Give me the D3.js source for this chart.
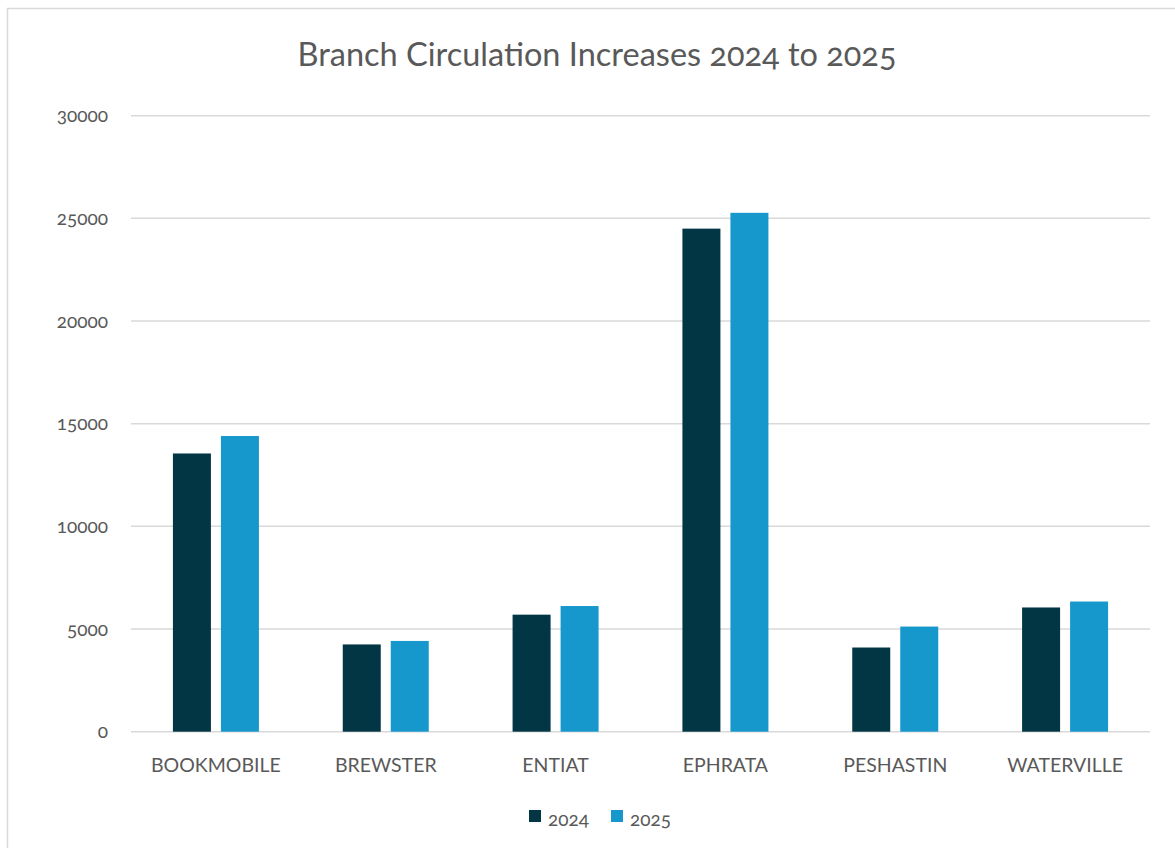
<!DOCTYPE html>
<html>
<head>
<meta charset="utf-8">
<script src="https://cdn.jsdelivr.net/npm/d3@7"></script>
<style>
  html, body { margin: 0; padding: 0; background: #fff; }
  text { font-family: Lato, "Open Sans", sans-serif; fill: #595959; font-variant-numeric: oldstyle-nums; }
</style>
</head>
<body>
<svg id="chart" width="1175" height="848"></svg>
<script>
const branches = ["BOOKMOBILE", "BREWSTER", "ENTIAT", "EPHRATA", "PESHASTIN", "WATERVILLE"];
const seriesNames = ["2024", "2025"];
const values2024 = [13550, 4250, 5700, 24500, 4100, 6050];
const values2025 = [14400, 4420, 6120, 25270, 5120, 6340];
const yTicks = [0, 5000, 10000, 15000, 20000, 25000, 30000];
const colors = ["#023644", "#1798CC"];
const title = "Branch Circulation Increases 2024 to 2025";

const svg = d3.select("#chart");

// outer frame
svg.append("rect")
  .attr("x", 7.5).attr("y", 8.5)
  .attr("width", 1180).attr("height", 860)
  .attr("fill", "none").attr("stroke", "#d9d9d9").attr("stroke-width", 1.5);

const margin = { left: 131, right: 1150, top: 115.7, bottom: 731.7 };

const x = d3.scaleBand().domain(branches).range([margin.left, margin.right]).paddingInner(0).paddingOuter(0);
const x1 = d3.scaleBand().domain(seriesNames).range([0, 86]).paddingInner(10 / 48).paddingOuter(0);
const y = d3.scaleLinear().domain([0, 30000]).range([margin.bottom, margin.top]);

// gridlines
svg.append("g")
  .selectAll("line").data(yTicks).join("line")
  .attr("x1", margin.left).attr("x2", margin.right)
  .attr("y1", d => y(d)).attr("y2", d => y(d))
  .attr("stroke", "#d9d9d9").attr("stroke-width", 1.5);

// y axis labels
const yAxis = d3.axisLeft(y).tickValues(yTicks).tickSize(0).tickPadding(0).tickFormat(d3.format("d"));
const yg = svg.append("g").attr("transform", `translate(108,0)`).call(yAxis);
yg.select(".domain").remove();
yg.selectAll("text").style("font-size", "19px").attr("dy", "0.32em").attr("fill", "#595959");

// bars
const data = branches.map((b, i) => ({ branch: b, vals: [values2024[i], values2025[i]] }));
const groups = svg.append("g").selectAll("g").data(data).join("g")
  .attr("transform", d => `translate(${x(d.branch) + (x.bandwidth() - 86) / 2},0)`);
groups.selectAll("rect").data(d => d.vals.map((v, j) => ({ s: seriesNames[j], v, j })))
  .join("rect")
  .attr("x", d => x1(d.s))
  .attr("width", x1.bandwidth())
  .attr("y", d => y(d.v))
  .attr("height", d => y(0) - y(d.v))
  .attr("fill", d => colors[d.j]);

// x axis labels
const xAxis = d3.axisBottom(x).tickSize(0).tickPadding(0);
const xg = svg.append("g").attr("transform", `translate(0,${margin.bottom})`).call(xAxis);
xg.select(".domain").remove();
xg.selectAll("text").style("font-size", "19.5px").attr("y", 40).attr("dy", null).attr("fill", "#595959");

// title
svg.append("text")
  .attr("x", 597).attr("y", 66)
  .attr("text-anchor", "middle")
  .style("font-size", "32.5px")
  .text(title);

// legend
const legend = svg.append("g");
const legendX = [529, 611];
seriesNames.forEach((s, i) => {
  legend.append("rect").attr("x", legendX[i]).attr("y", 810).attr("width", 12).attr("height", 12).attr("fill", colors[i]);
  legend.append("text").attr("x", legendX[i] + 19).attr("y", 826).style("font-size", "19px").text(s);
});
</script>
</body>
</html>
